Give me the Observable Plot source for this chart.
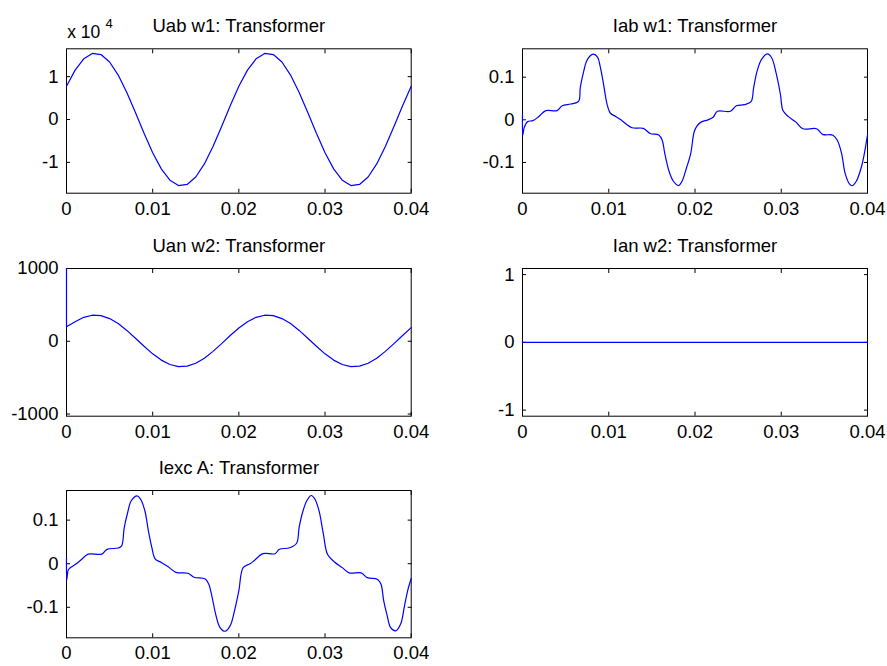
<!DOCTYPE html>
<html><head><meta charset="utf-8">
<script src="https://cdn.jsdelivr.net/npm/d3@7"></script>
<script src="https://cdn.jsdelivr.net/npm/@observablehq/plot@0.6"></script>
<style>
html,body{margin:0;padding:0;background:#fff;}
#fig{position:relative;width:887px;height:666px;overflow:hidden;background:#fff;}
#fig > div{position:absolute;}
</style></head><body><div id="fig"></div>
<script>
// ---- data ----
const titles = ["Uab w1: Transformer", "Iab w1: Transformer", "Uan w2: Transformer", "Ian w2: Transformer", "Iexc A: Transformer"];
const xTicks = [0, 0.01, 0.02, 0.03, 0.04];

const uabT = [0,0.001,0.002,0.003,0.004,0.005,0.006,0.007,0.008,0.009,0.010,0.011,0.012,0.013,0.014,0.015,0.016,0.017,0.018,0.019,0.020,0.021,0.022,0.023,0.024,0.025,0.026,0.027,0.028,0.029,0.030,0.031,0.032,0.033,0.034,0.035,0.036,0.037,0.038,0.039,0.040];
const uabV = [7750,11520,14160,15420,15160,13420,10370,6300,1620,-3220,-7750,-11520,-14160,-15420,-15160,-13420,-10370,-6300,-1620,3220,7750,11520,14160,15420,15160,13420,10370,6300,1620,-3220,-7750,-11520,-14160,-15420,-15160,-13420,-10370,-6300,-1620,3220,7750];
const uabTicks = [-10000, 0, 10000];

const iabT = [0,0.00003,0.0002,0.0006,0.0012,0.0019,0.0027,0.0040,0.0046,0.0056,0.0065,0.0067,0.0071,0.0074,0.0078,0.0082,0.0087,0.0090,0.0094,0.0098,0.0102,0.0108,0.0115,0.0127,0.0140,0.0148,0.0158,0.0162,0.0165,0.0170,0.0175,0.0181,0.0185,0.0190,0.0195,0.0199,0.0202,0.0207,0.0215,0.0221,0.0226,0.0241,0.0248,0.0257,0.0265,0.0268,0.0272,0.0277,0.0284,0.0289,0.0294,0.0299,0.0302,0.0308,0.0317,0.0325,0.0341,0.0348,0.0360,0.0365,0.0370,0.0374,0.0379,0.0382,0.0387,0.0393,0.0396,0.0400];
const iabV = [0.012,-0.036,-0.018,-0.004,-0.002,0.008,0.0216,0.0216,0.033,0.037,0.043,0.076,0.114,0.136,0.149,0.154,0.147,0.126,0.083,0.037,0.0154,0.008,-0.0015,-0.0185,-0.020,-0.032,-0.0355,-0.048,-0.079,-0.121,-0.144,-0.154,-0.144,-0.1135,-0.079,-0.0286,-0.0155,-0.0054,0.0,0.006,0.020,0.020,0.033,0.0355,0.0425,0.0757,0.114,0.141,0.1545,0.145,0.110,0.060,0.0216,0.008,-0.0054,-0.021,-0.021,-0.034,-0.036,-0.048,-0.079,-0.125,-0.15,-0.1545,-0.144,-0.11,-0.083,-0.036];
const iTicks = [-0.1, 0, 0.1];

const uanT = [0,0,0.001,0.002,0.003,0.004,0.005,0.006,0.007,0.008,0.009,0.010,0.011,0.012,0.013,0.014,0.015,0.016,0.017,0.018,0.019,0.020,0.021,0.022,0.023,0.024,0.025,0.026,0.027,0.028,0.029,0.030,0.031,0.032,0.033,0.034,0.035,0.036,0.037,0.038,0.039,0.040];
const uanV = [1000,200,269,329,358,352,312,243,149,42,-69,-173,-259,-319,-348,-342,-302,-233,-139,-32,79,183,269,329,358,352,312,243,149,42,-69,-173,-259,-319,-348,-342,-302,-233,-139,-32,79,188];
const uanTicks = [-1000, 0, 1000];

const ianT = [0, 0.04];
const ianV = [0, 0];
const ianTicks = [-1, 0, 1];

const iexcT = [0,0.00003,0.0002,0.0004,0.0010,0.0018,0.0025,0.0041,0.0047,0.0060,0.0064,0.0067,0.0071,0.0075,0.0082,0.0086,0.0091,0.0095,0.0099,0.0103,0.0110,0.0118,0.0127,0.0141,0.0148,0.0161,0.0165,0.0169,0.0173,0.0178,0.0184,0.0190,0.0195,0.0200,0.0205,0.0213,0.0218,0.0228,0.0242,0.0247,0.0259,0.0267,0.0270,0.0274,0.0279,0.0284,0.0288,0.0293,0.0298,0.0303,0.0311,0.0320,0.0328,0.0342,0.0349,0.0361,0.0365,0.0368,0.0372,0.0376,0.0382,0.0388,0.0392,0.0396,0.0400];
const iexcV = [0.013,-0.037,-0.0145,-0.010,-0.002,0.0107,0.022,0.022,0.033,0.036,0.041,0.083,0.1175,0.144,0.1557,0.148,0.121,0.0756,0.0374,0.0107,0.003,-0.0069,-0.0198,-0.022,-0.031,-0.035,-0.0466,-0.077,-0.115,-0.146,-0.155,-0.142,-0.1076,-0.062,-0.009,0.0,0.0076,0.023,0.023,0.033,0.0366,0.047,0.084,0.118,0.145,0.1565,0.149,0.122,0.069,0.021,0.004,-0.009,-0.021,-0.021,-0.032,-0.036,-0.047,-0.084,-0.118,-0.146,-0.154,-0.137,-0.099,-0.061,-0.034];

// ---- layout ----
const FONT = "'Liberation Sans', Arial, Helvetica, sans-serif";
const cols = [{left: 0, width: 443, ml: 66, mr: 32.3}, {left: 443, width: 444, ml: 79, mr: 20}];
const rows = [{top: 0, height: 222, mt: 48.3, mb: 29.3}, {top: 222, height: 222, mt: 46, mb: 28.3}, {top: 444, height: 222, mt: 46, mb: 28.7}];

const panels = [
  {title: titles[0], t: uabT, v: uabV, ticks: uabTicks, domain: [-17200, 16500], fmt: d => String(d / 10000), col: 0, row: 0, exp: true, curve: "linear"},
  {title: titles[1], t: iabT, v: iabV, ticks: iTicks, domain: [-0.172, 0.1665], fmt: d => String(d), col: 1, row: 0, curve: "catmull-rom"},
  {title: titles[2], t: uanT, v: uanV, ticks: uanTicks, domain: [-1030, 1000], fmt: d => String(d), col: 0, row: 1, curve: "linear"},
  {title: titles[3], t: ianT, v: ianV, ticks: ianTicks, domain: [-1.09, 1.09], fmt: d => String(d), col: 1, row: 1, curve: "linear"},
  {title: titles[4], t: iexcT, v: iexcV, ticks: iTicks, domain: [-0.17, 0.168], fmt: d => String(d), col: 0, row: 2, curve: "catmull-rom"}
];

const fig = document.getElementById("fig");
for (const p of panels) {
  const c = cols[p.col], r = rows[p.row];
  const data = p.t.map((t, i) => ({t, v: p.v[i]}));
  const marks = [
    Plot.frame({stroke: "black"}),
    Plot.axisX({anchor: "bottom", ticks: xTicks, tickSize: 0, tickPadding: 8.5, tickFormat: d => String(d)}),
    Plot.axisY({anchor: "left", ticks: p.ticks, tickSize: 0, tickPadding: 8, tickFormat: p.fmt}),
    Plot.axisX({anchor: "bottom", ticks: xTicks, tickSize: 4, dy: -4, fill: "none", tickFormat: () => ""}),
    Plot.axisX({anchor: "top", ticks: xTicks, tickSize: 4, dy: 4, fill: "none", tickFormat: () => ""}),
    Plot.axisY({anchor: "left", ticks: p.ticks, tickSize: 4, dx: 4, fill: "none", tickFormat: () => ""}),
    Plot.axisY({anchor: "right", ticks: p.ticks, tickSize: 4, dx: -4, fill: "none", tickFormat: () => ""}),
    Plot.line(data, {x: "t", y: "v", stroke: "#0000ff", strokeWidth: 1.2, curve: p.curve}),
    Plot.text([p.title], {frameAnchor: "top", text: d => d, lineAnchor: "bottom", dy: -16.6, fontSize: 18.5, fill: "black"})
  ];
  if (p.exp) {
    marks.push(Plot.text(["x 10"], {frameAnchor: "top-left", text: d => d, textAnchor: "start", lineAnchor: "bottom", dx: 0.7, dy: -11, fontSize: 17.5, fill: "black"}));
    marks.push(Plot.text(["4"], {frameAnchor: "top-left", text: d => d, textAnchor: "start", lineAnchor: "bottom", dx: 39, dy: -20.8, fontSize: 13, fill: "black"}));
  }
  const svg = Plot.plot({
    width: c.width, height: r.height,
    marginLeft: c.ml, marginRight: c.mr, marginTop: r.mt, marginBottom: r.mb,
    style: {fontFamily: FONT, fontSize: "18.5px", background: "transparent", color: "black", overflow: "visible"},
    x: {domain: [0, 0.04], label: null},
    y: {domain: p.domain, label: null},
    marks
  });
  const holder = document.createElement("div");
  holder.style.left = c.left + "px";
  holder.style.top = r.top + "px";
  holder.appendChild(svg);
  fig.appendChild(holder);
}
</script></body></html>
